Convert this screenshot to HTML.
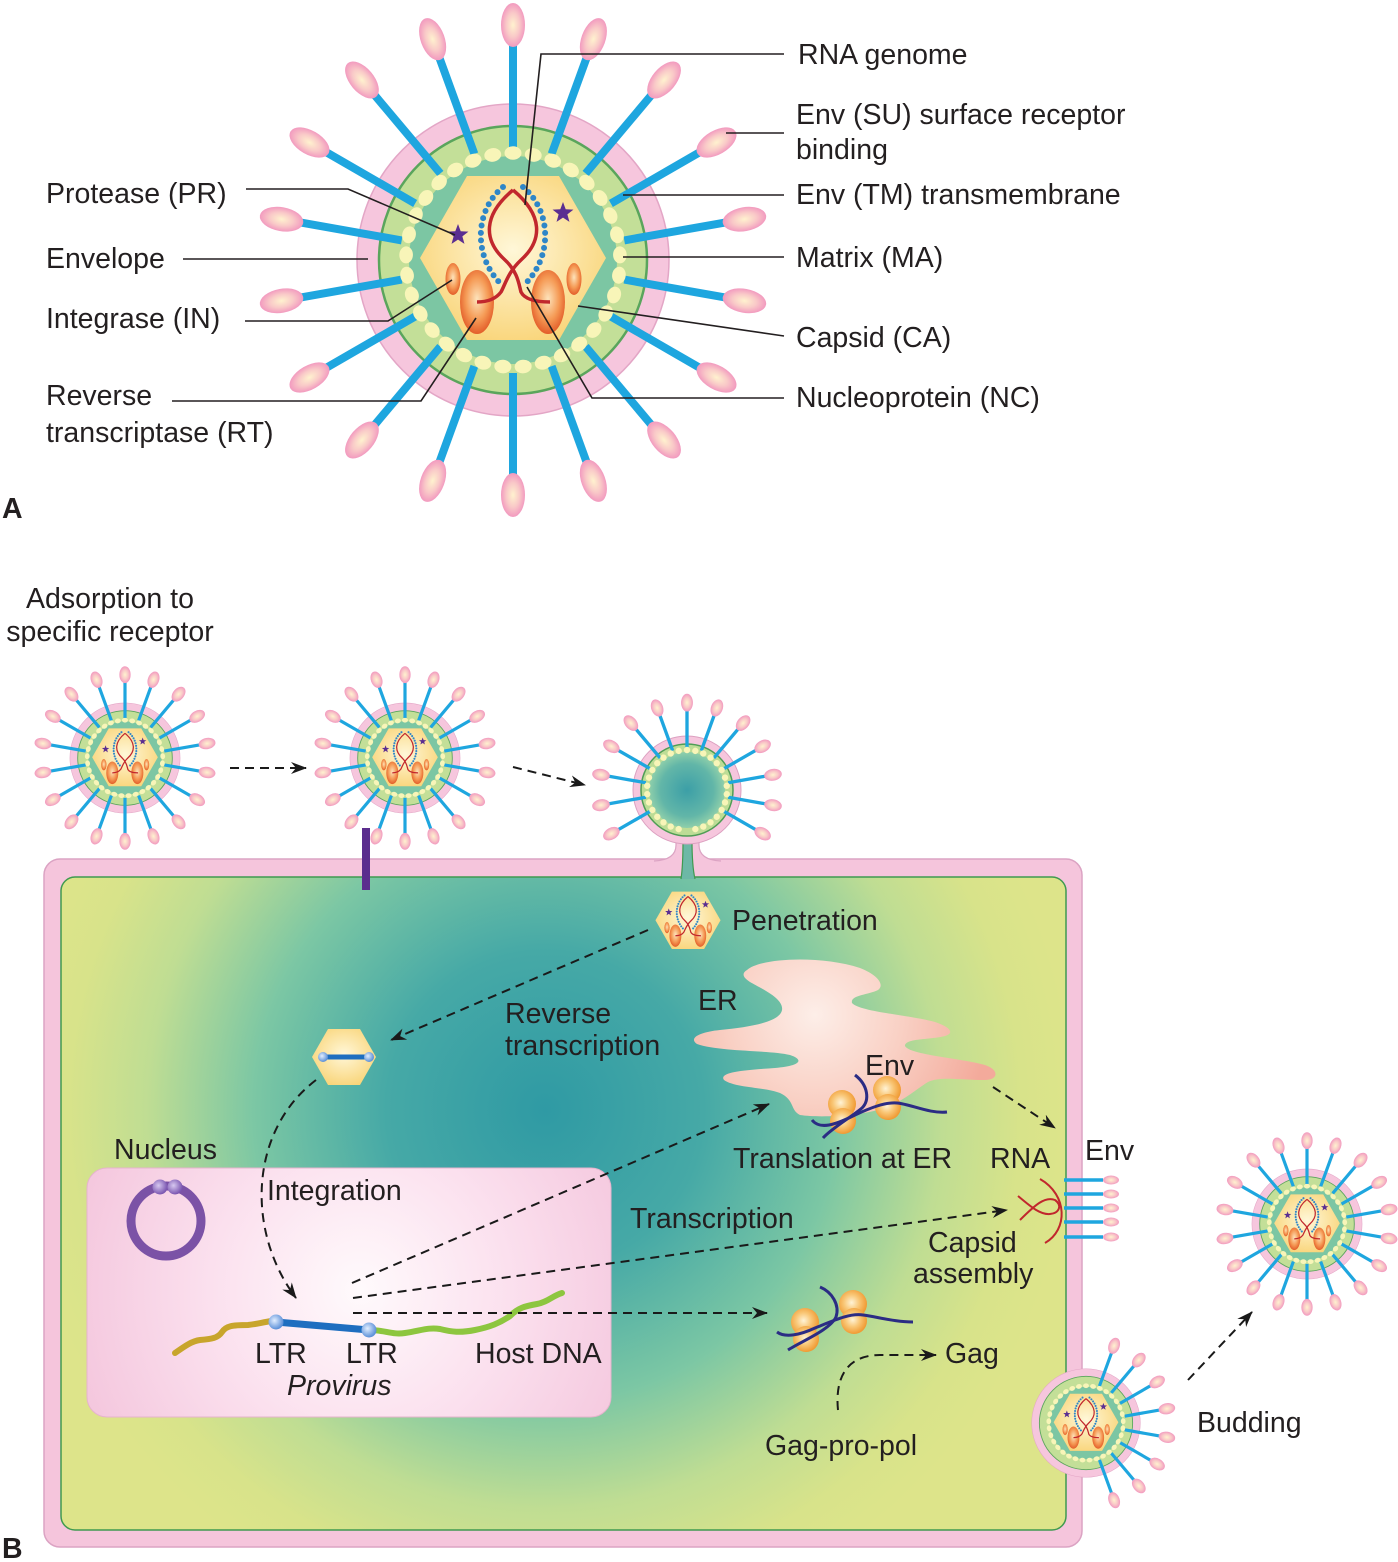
<!DOCTYPE html>
<html><head><meta charset="utf-8"><style>html,body{margin:0;padding:0;background:#fff}svg{display:block}text{font-family:"Liberation Sans",Arial,sans-serif;font-size:28.5px;fill:#231f20}</style></head>
<body>
<svg width="1398" height="1562" viewBox="0 0 1398 1562" xmlns="http://www.w3.org/2000/svg" xmlns:xlink="http://www.w3.org/1999/xlink">
<defs>
<radialGradient id="knobG" cx="0.5" cy="0.5" r="0.5"><stop offset="0" stop-color="#fff2cf"/><stop offset="0.55" stop-color="#f9c9c8"/><stop offset="1" stop-color="#f29abf"/></radialGradient>
<radialGradient id="hexG" cx="0.5" cy="0.45" r="0.6"><stop offset="0" stop-color="#fff7d8"/><stop offset="1" stop-color="#f9d477"/></radialGradient>
<radialGradient id="oraG" cx="0.5" cy="0.45" r="0.55"><stop offset="0" stop-color="#fde3bb"/><stop offset="0.6" stop-color="#f59a55"/><stop offset="1" stop-color="#e35e2a"/></radialGradient>
<radialGradient id="riboG" cx="0.45" cy="0.45" r="0.55"><stop offset="0" stop-color="#fff3d6"/><stop offset="0.5" stop-color="#f9c777"/><stop offset="1" stop-color="#f09a33"/></radialGradient>
<radialGradient id="erG" gradientUnits="userSpaceOnUse" cx="815" cy="1015" r="175"><stop offset="0" stop-color="#fdeee8"/><stop offset="0.5" stop-color="#f9d0c4"/><stop offset="1" stop-color="#f3aa9b"/></radialGradient>
<radialGradient id="cellG" gradientUnits="userSpaceOnUse" cx="545" cy="1110" r="530"><stop offset="0" stop-color="#2f9aa4"/><stop offset="0.3" stop-color="#46a9a6"/><stop offset="0.55" stop-color="#7cc7a4"/><stop offset="0.75" stop-color="#bfdd93"/><stop offset="0.9" stop-color="#d8e38a"/><stop offset="1" stop-color="#dde48a"/></radialGradient>
<radialGradient id="nucG" gradientUnits="userSpaceOnUse" cx="360" cy="1290" r="300"><stop offset="0" stop-color="#fffafc"/><stop offset="0.5" stop-color="#fbe0ee"/><stop offset="1" stop-color="#f4c6dd"/></radialGradient>
<radialGradient id="tealG" cx="0.5" cy="0.5" r="0.5"><stop offset="0" stop-color="#3c9fa7"/><stop offset="0.7" stop-color="#62b6a8"/><stop offset="1" stop-color="#8fcfaa"/></radialGradient>
<radialGradient id="ballB" cx="0.4" cy="0.4" r="0.6"><stop offset="0" stop-color="#e2eeff"/><stop offset="1" stop-color="#5a8fd8"/></radialGradient>
<radialGradient id="ballP" cx="0.4" cy="0.4" r="0.6"><stop offset="0" stop-color="#d7c8f0"/><stop offset="1" stop-color="#7a55b0"/></radialGradient>
<marker id="ah" viewBox="0 0 16 12" refX="15" refY="6" markerWidth="16" markerHeight="12" markerUnits="userSpaceOnUse" orient="auto"><path d="M0,0 L16,6 L0,12 L5,6 Z" fill="#1a1a1a"/></marker>

<g id="spike"><line x1="0" y1="-113" x2="0" y2="-216" stroke="#1ea6df" stroke-width="8"/><ellipse cx="0" cy="-235" rx="12" ry="22" fill="url(#knobG)"/></g>
<g id="spikeS"><line x1="0" y1="-113" x2="0" y2="-214" stroke="#1ea6df" stroke-width="9"/><ellipse cx="0" cy="-236" rx="16" ry="24" fill="url(#knobG)"/></g>
<ellipse id="dot" cx="0" cy="-107" rx="8.5" ry="6.8" fill="#f8f5b8"/>
<polygon id="star" points="0,-11 2.7,-3.72 10.46,-3.4 4.37,1.42 6.47,8.9 0,4.6 -6.47,8.9 -4.37,1.42 -10.46,-3.4 -2.7,-3.72" fill="#5b2e91"/>

<g id="vcirc">
<circle r="156" fill="#f6c6dd" stroke="#e3a6c6" stroke-width="1.5"/>
<circle r="134" fill="#c3df98" stroke="#5aa55c" stroke-width="2.5"/>
<circle r="104" fill="#7cc6a3"/>
</g>
<g id="vdots">
<use xlink:href="#dot"/><use xlink:href="#dot" transform="rotate(10.91)"/><use xlink:href="#dot" transform="rotate(21.82)"/><use xlink:href="#dot" transform="rotate(32.73)"/><use xlink:href="#dot" transform="rotate(43.64)"/><use xlink:href="#dot" transform="rotate(54.55)"/><use xlink:href="#dot" transform="rotate(65.45)"/><use xlink:href="#dot" transform="rotate(76.36)"/><use xlink:href="#dot" transform="rotate(87.27)"/><use xlink:href="#dot" transform="rotate(98.18)"/><use xlink:href="#dot" transform="rotate(109.09)"/><use xlink:href="#dot" transform="rotate(120)"/><use xlink:href="#dot" transform="rotate(130.91)"/><use xlink:href="#dot" transform="rotate(141.82)"/><use xlink:href="#dot" transform="rotate(152.73)"/><use xlink:href="#dot" transform="rotate(163.64)"/><use xlink:href="#dot" transform="rotate(174.55)"/><use xlink:href="#dot" transform="rotate(185.45)"/><use xlink:href="#dot" transform="rotate(196.36)"/><use xlink:href="#dot" transform="rotate(207.27)"/><use xlink:href="#dot" transform="rotate(218.18)"/><use xlink:href="#dot" transform="rotate(229.09)"/><use xlink:href="#dot" transform="rotate(240)"/><use xlink:href="#dot" transform="rotate(250.91)"/><use xlink:href="#dot" transform="rotate(261.82)"/><use xlink:href="#dot" transform="rotate(272.73)"/><use xlink:href="#dot" transform="rotate(283.64)"/><use xlink:href="#dot" transform="rotate(294.55)"/><use xlink:href="#dot" transform="rotate(305.45)"/><use xlink:href="#dot" transform="rotate(316.36)"/><use xlink:href="#dot" transform="rotate(327.27)"/><use xlink:href="#dot" transform="rotate(338.18)"/><use xlink:href="#dot" transform="rotate(349.09)"/>
</g>
<g id="vcore">
<polygon points="-93,-2 -46,-84 46,-84 93,-2 46,80 -46,80" fill="url(#hexG)"/>
<ellipse cx="-60" cy="19" rx="7.5" ry="16" fill="url(#oraG)"/>
<ellipse cx="61" cy="19" rx="7.5" ry="16" fill="url(#oraG)"/>
<ellipse cx="-36" cy="42" rx="17" ry="32" fill="url(#oraG)"/>
<ellipse cx="35" cy="42" rx="17" ry="32" fill="url(#oraG)"/>
<path d="M-10,-73 C-38,-50 -40,-5 -13,23" fill="none" stroke="#2e86c8" stroke-width="6" stroke-linecap="round" stroke-dasharray="0 7.5"/>
<path d="M10,-73 C38,-50 40,-5 13,23" fill="none" stroke="#2e86c8" stroke-width="6" stroke-linecap="round" stroke-dasharray="0 7.5"/>
<path d="M0,-70 C-30,-45 -30,-20 -8,0 C5,12 6,25 8,32 C12,40 25,42 37,42" fill="none" stroke="#c1272d" stroke-width="3.5"/>
<path d="M0,-70 C30,-45 30,-20 8,0 C-5,12 -8,25 -12,32 C-18,40 -28,42 -36,42" fill="none" stroke="#c1272d" stroke-width="3.5"/>
<use xlink:href="#star" transform="translate(-55,-25)"/>
<use xlink:href="#star" transform="translate(50,-47)"/>
</g>
<g id="spikes18">
<use xlink:href="#spike"/><use xlink:href="#spike" transform="rotate(20)"/><use xlink:href="#spike" transform="rotate(40)"/><use xlink:href="#spike" transform="rotate(60)"/><use xlink:href="#spike" transform="rotate(80)"/><use xlink:href="#spike" transform="rotate(100)"/><use xlink:href="#spike" transform="rotate(120)"/><use xlink:href="#spike" transform="rotate(140)"/><use xlink:href="#spike" transform="rotate(160)"/><use xlink:href="#spike" transform="rotate(180)"/><use xlink:href="#spike" transform="rotate(200)"/><use xlink:href="#spike" transform="rotate(220)"/><use xlink:href="#spike" transform="rotate(240)"/><use xlink:href="#spike" transform="rotate(260)"/><use xlink:href="#spike" transform="rotate(280)"/><use xlink:href="#spike" transform="rotate(300)"/><use xlink:href="#spike" transform="rotate(320)"/><use xlink:href="#spike" transform="rotate(340)"/>
</g>
<g id="spikes18S">
<use xlink:href="#spikeS"/><use xlink:href="#spikeS" transform="rotate(20)"/><use xlink:href="#spikeS" transform="rotate(40)"/><use xlink:href="#spikeS" transform="rotate(60)"/><use xlink:href="#spikeS" transform="rotate(80)"/><use xlink:href="#spikeS" transform="rotate(100)"/><use xlink:href="#spikeS" transform="rotate(120)"/><use xlink:href="#spikeS" transform="rotate(140)"/><use xlink:href="#spikeS" transform="rotate(160)"/><use xlink:href="#spikeS" transform="rotate(180)"/><use xlink:href="#spikeS" transform="rotate(200)"/><use xlink:href="#spikeS" transform="rotate(220)"/><use xlink:href="#spikeS" transform="rotate(240)"/><use xlink:href="#spikeS" transform="rotate(260)"/><use xlink:href="#spikeS" transform="rotate(280)"/><use xlink:href="#spikeS" transform="rotate(300)"/><use xlink:href="#spikeS" transform="rotate(320)"/><use xlink:href="#spikeS" transform="rotate(340)"/>
</g>
<g id="virion"><use xlink:href="#vcirc"/><use xlink:href="#spikes18"/><use xlink:href="#vdots"/><use xlink:href="#vcore"/></g>
<g id="virionS"><use xlink:href="#vcirc"/><use xlink:href="#spikes18S"/><use xlink:href="#vdots"/><use xlink:href="#vcore"/></g>
<circle id="sdot" cx="0" cy="-40" r="3.2" fill="#f8f5b8"/>
<g id="ribo"><circle cx="0" cy="-8" r="14" fill="url(#riboG)"/><circle cx="1" cy="9" r="13" fill="url(#riboG)"/></g>
</defs>

<!-- ===== PART A ===== -->
<use xlink:href="#virion" transform="translate(513,260)"/>

<g fill="none" stroke="#231f20" stroke-width="1.6">
<polyline points="784,54 541,54 525,205"/>
<line x1="726" y1="133" x2="784" y2="133"/>
<line x1="623" y1="195" x2="784" y2="195"/>
<line x1="623" y1="257" x2="784" y2="257"/>
<line x1="578" y1="306" x2="784" y2="336"/>
<polyline points="527,287 592,398 784,398"/>
<polyline points="246,189 348,189 455,235"/>
<line x1="183" y1="259" x2="368" y2="259"/>
<polyline points="245,321 388,321 452,280"/>
<polyline points="172,401 421,401 476,318"/>
</g>

<text x="798" y="64">RNA genome</text>
<text x="796" y="124">Env (SU) surface receptor</text>
<text x="796" y="159">binding</text>
<text x="796" y="204">Env (TM) transmembrane</text>
<text x="796" y="267">Matrix (MA)</text>
<text x="796" y="347">Capsid (CA)</text>
<text x="796" y="407">Nucleoprotein (NC)</text>
<text x="46" y="203">Protease (PR)</text>
<text x="46" y="268">Envelope</text>
<text x="46" y="328">Integrase (IN)</text>
<text x="46" y="405">Reverse</text>
<text x="46" y="442">transcriptase (RT)</text>
<text x="2" y="518" style="font-weight:bold">A</text>

<!-- ===== PART B ===== -->
<text x="110" y="608" text-anchor="middle">Adsorption to</text>
<text x="110" y="641" text-anchor="middle">specific receptor</text>

<use xlink:href="#virionS" transform="translate(125,758) scale(0.353)"/>
<use xlink:href="#virionS" transform="translate(405,758) scale(0.353)"/>

<!-- cell -->
<rect x="44" y="859" width="1038" height="688" rx="16" fill="#f5c5dc" stroke="#dba3c3" stroke-width="1.5"/>
<path d="M654,861 Q676,860 676,845 L676,830 L699,830 L699,845 Q699,860 721,861 Z" fill="#f5c5dc"/>
<path d="M654,861 Q676,860 676,845 L676,838 M699,838 L699,845 Q699,860 721,861" fill="none" stroke="#dba3c3" stroke-width="1.2"/>
<rect x="61" y="877" width="1005" height="653" rx="14" fill="url(#cellG)" stroke="#3f9a50" stroke-width="1.5"/>
<path d="M681,879 Q683,866 683,840 L692,840 Q692,866 695,879 Z" fill="#6db8a6"/>
<path d="M681,879 Q683,866 683,840 M695,879 Q692,866 692,840" fill="none" stroke="#3f9a50" stroke-width="1.2"/>

<!-- receptor -->
<rect x="362" y="828" width="8" height="62" fill="#5b2d8e"/>

<!-- fusing virion -->
<g transform="translate(687,790)">
<circle r="54" fill="#f6c6dd" stroke="#dca0c0" stroke-width="1"/>
<circle r="46" fill="#bddc96" stroke="#4f9d55" stroke-width="1.5"/>
<circle r="38" fill="url(#tealG)"/>
<g transform="scale(0.37)">
<use xlink:href="#spikeS" transform="rotate(-120)"/><use xlink:href="#spikeS" transform="rotate(-100)"/><use xlink:href="#spikeS" transform="rotate(-80)"/><use xlink:href="#spikeS" transform="rotate(-60)"/><use xlink:href="#spikeS" transform="rotate(-40)"/><use xlink:href="#spikeS" transform="rotate(-20)"/><use xlink:href="#spikeS"/><use xlink:href="#spikeS" transform="rotate(20)"/><use xlink:href="#spikeS" transform="rotate(40)"/><use xlink:href="#spikeS" transform="rotate(60)"/><use xlink:href="#spikeS" transform="rotate(80)"/><use xlink:href="#spikeS" transform="rotate(100)"/><use xlink:href="#spikeS" transform="rotate(120)"/>
</g>
<use xlink:href="#sdot"/><use xlink:href="#sdot" transform="rotate(12)"/><use xlink:href="#sdot" transform="rotate(24)"/><use xlink:href="#sdot" transform="rotate(36)"/><use xlink:href="#sdot" transform="rotate(48)"/><use xlink:href="#sdot" transform="rotate(60)"/><use xlink:href="#sdot" transform="rotate(72)"/><use xlink:href="#sdot" transform="rotate(84)"/><use xlink:href="#sdot" transform="rotate(96)"/><use xlink:href="#sdot" transform="rotate(108)"/><use xlink:href="#sdot" transform="rotate(120)"/><use xlink:href="#sdot" transform="rotate(132)"/><use xlink:href="#sdot" transform="rotate(144)"/><use xlink:href="#sdot" transform="rotate(156)"/><use xlink:href="#sdot" transform="rotate(168)"/><use xlink:href="#sdot" transform="rotate(192)"/><use xlink:href="#sdot" transform="rotate(204)"/><use xlink:href="#sdot" transform="rotate(216)"/><use xlink:href="#sdot" transform="rotate(228)"/><use xlink:href="#sdot" transform="rotate(240)"/><use xlink:href="#sdot" transform="rotate(252)"/><use xlink:href="#sdot" transform="rotate(264)"/><use xlink:href="#sdot" transform="rotate(276)"/><use xlink:href="#sdot" transform="rotate(288)"/><use xlink:href="#sdot" transform="rotate(300)"/><use xlink:href="#sdot" transform="rotate(312)"/><use xlink:href="#sdot" transform="rotate(324)"/><use xlink:href="#sdot" transform="rotate(336)"/><use xlink:href="#sdot" transform="rotate(348)"/>
</g>

<!-- penetration core -->
<use xlink:href="#vcore" transform="translate(688,921) scale(0.35)"/>
<text x="732" y="930">Penetration</text>

<!-- ER -->
<path d="M747,970 C760,958 820,955 860,968 C878,975 885,985 878,990 C868,995 850,995 852,1003 C860,1012 910,1015 935,1022 C950,1027 955,1033 945,1036 C930,1040 905,1038 905,1046 C910,1055 960,1058 985,1065 C1000,1070 998,1080 985,1080 C960,1080 940,1076 928,1082 C915,1090 905,1100 885,1108 C860,1116 820,1118 800,1115 C790,1110 795,1100 780,1093 C765,1087 735,1088 724,1080 C718,1072 745,1070 775,1068 C800,1066 805,1060 790,1055 C770,1050 720,1052 697,1044 C688,1038 700,1032 720,1030 C750,1027 780,1022 782,1010 C784,998 760,988 750,982 C742,977 742,973 747,970 Z" fill="url(#erG)"/>
<text x="698" y="1010">ER</text>

<!-- ribosomes at ER -->
<use xlink:href="#ribo" transform="translate(842,1112)"/>
<use xlink:href="#ribo" transform="translate(887,1098)"/>
<path d="M812,1120 C820,1130 835,1125 855,1115 C870,1108 885,1102 897,1103 C910,1104 930,1114 947,1112" fill="none" stroke="#2b2c84" stroke-width="3"/>
<path d="M855,1075 C868,1085 870,1100 862,1108 C850,1118 832,1128 823,1138" fill="none" stroke="#2b2c84" stroke-width="3"/>
<text x="865" y="1075">Env</text>
<text x="733" y="1168">Translation at ER</text>
<text x="990" y="1168">RNA</text>
<text x="1085" y="1160">Env</text>

<!-- reverse transcription -->
<text x="505" y="1023">Reverse</text>
<text x="505" y="1055">transcription</text>
<polygon points="312,1057 328,1029 360,1029 376,1057 360,1085 328,1085" fill="url(#hexG)"/>
<line x1="323" y1="1057" x2="369" y2="1057" stroke="#1e6ec0" stroke-width="5"/>
<circle cx="323" cy="1057" r="5" fill="url(#ballB)"/>
<circle cx="369" cy="1057" r="5" fill="url(#ballB)"/>

<!-- nucleus -->
<text x="114" y="1159">Nucleus</text>
<rect x="87" y="1168" width="524" height="249" rx="20" fill="url(#nucG)" stroke="#e6b3cd" stroke-width="1"/>
<circle cx="166" cy="1221" r="35" fill="none" stroke="#7b52a6" stroke-width="9"/>
<circle cx="160" cy="1187" r="7.5" fill="url(#ballP)"/>
<circle cx="175" cy="1187" r="7.5" fill="url(#ballP)"/>
<text x="267" y="1200">Integration</text>

<!-- provirus -->
<path d="M175,1353 C185,1346 192,1341 200,1340 C212,1339 218,1338 222,1332 C226,1326 232,1325 248,1325 C258,1324 263,1322 272,1321" fill="none" stroke="#c8a52c" stroke-width="6" stroke-linecap="round"/>
<path d="M369,1330 C385,1330 392,1335 405,1333 C420,1331 428,1327 440,1329 C452,1332 460,1333 475,1330 C490,1327 500,1323 510,1316 C518,1308 525,1306 537,1304 C548,1302 552,1296 562,1293" fill="none" stroke="#8dc63f" stroke-width="6" stroke-linecap="round"/>
<line x1="276" y1="1322" x2="369" y2="1330" stroke="#1e6ec0" stroke-width="7"/>
<circle cx="276" cy="1322" r="7.5" fill="url(#ballB)"/>
<circle cx="369" cy="1330" r="7.5" fill="url(#ballB)"/>
<text x="255" y="1363">LTR</text>
<text x="346" y="1363">LTR</text>
<text x="475" y="1363">Host DNA</text>
<text x="287" y="1395" style="font-style:italic">Provirus</text>

<!-- transcription -->
<text x="630" y="1228">Transcription</text>
<use xlink:href="#ribo" transform="translate(805,1330)"/>
<use xlink:href="#ribo" transform="translate(853,1312)"/>
<path d="M777,1332 C785,1338 800,1335 815,1328 C835,1320 850,1313 863,1315 C878,1317 895,1322 913,1322" fill="none" stroke="#2b2c84" stroke-width="3"/>
<path d="M820,1287 C832,1292 840,1305 836,1317 C830,1330 800,1342 788,1350" fill="none" stroke="#2b2c84" stroke-width="3"/>

<!-- capsid assembly -->
<path d="M1040,1179 C1068,1195 1068,1230 1045,1243" fill="none" stroke="#c1272d" stroke-width="2"/>
<path d="M1018,1196 C1030,1206 1040,1215 1050,1214 C1060,1213 1062,1205 1055,1200 C1045,1196 1035,1205 1020,1220" fill="none" stroke="#c1272d" stroke-width="2"/>
<text x="928" y="1252">Capsid</text>
<text x="913" y="1283">assembly</text>
<g stroke="#1ea6df" stroke-width="3.5">
<line x1="1064" y1="1180" x2="1103" y2="1180"/><line x1="1064" y1="1194" x2="1103" y2="1194"/><line x1="1064" y1="1208" x2="1103" y2="1208"/><line x1="1064" y1="1222" x2="1103" y2="1222"/><line x1="1064" y1="1237" x2="1103" y2="1237"/>
</g>
<g fill="url(#knobG)">
<ellipse cx="1111" cy="1180" rx="8" ry="4.5"/><ellipse cx="1111" cy="1194" rx="8" ry="4.5"/><ellipse cx="1111" cy="1208" rx="8" ry="4.5"/><ellipse cx="1111" cy="1222" rx="8" ry="4.5"/><ellipse cx="1111" cy="1237" rx="8" ry="4.5"/>
</g>

<text x="945" y="1363">Gag</text>
<text x="765" y="1455">Gag-pro-pol</text>

<!-- budding virion -->
<g transform="translate(1086,1423) scale(0.348)">
<use xlink:href="#vcirc"/>
<use xlink:href="#spikeS" transform="rotate(20)"/><use xlink:href="#spikeS" transform="rotate(40)"/><use xlink:href="#spikeS" transform="rotate(60)"/><use xlink:href="#spikeS" transform="rotate(80)"/><use xlink:href="#spikeS" transform="rotate(100)"/><use xlink:href="#spikeS" transform="rotate(120)"/><use xlink:href="#spikeS" transform="rotate(140)"/><use xlink:href="#spikeS" transform="rotate(160)"/>
<use xlink:href="#vdots"/><use xlink:href="#vcore"/>
</g>
<text x="1197" y="1432">Budding</text>

<!-- released virion -->
<use xlink:href="#virionS" transform="translate(1307,1224) scale(0.353)"/>

<!-- dashed arrows -->
<g fill="none" stroke="#1a1a1a" stroke-width="2" stroke-dasharray="9 6" marker-end="url(#ah)">
<path d="M230,768 L306,768"/>
<path d="M513,767 L585,785"/>
<path d="M648,930 L391,1040"/>
<path d="M316,1080 C250,1130 245,1230 296,1298"/>
<path d="M352,1283 L769,1104"/>
<path d="M353,1298 L1007,1210"/>
<path d="M353,1313 L767,1313"/>
<path d="M993,1087 L1055,1128"/>
<path d="M838,1410 C835,1380 845,1355 880,1355 L936,1355"/>
<path d="M1188,1380 L1252,1312"/>
</g>

<text x="2" y="1558" style="font-weight:bold">B</text>
</svg>
</body></html>
